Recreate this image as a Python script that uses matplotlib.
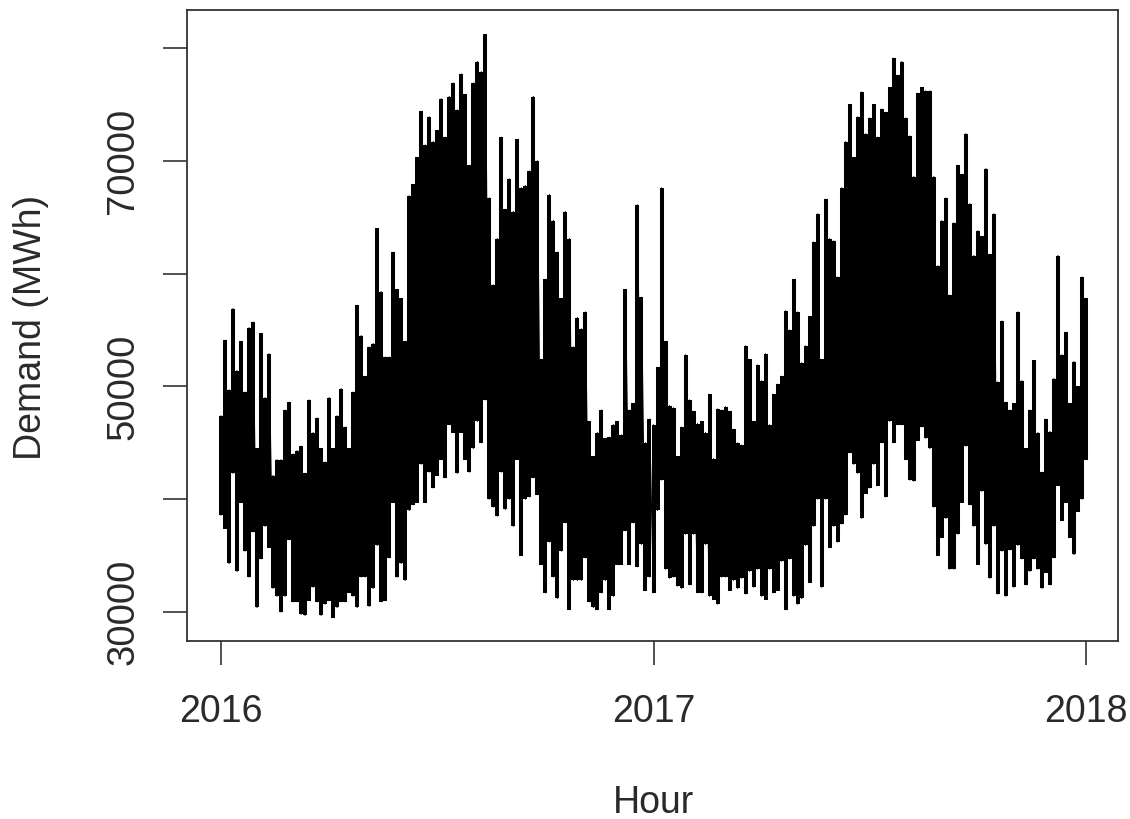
import numpy as np
import matplotlib
matplotlib.use("Agg")
import matplotlib.pyplot as plt

plt.rcParams['font.family'] = ['Liberation Sans', 'DejaVu Sans']

# Upper and lower envelope of the hourly demand, thousand MWh, read about every 3.4 days
high_2016a = [47.4,54.1,49.7,56.9,51.4,54.0,49.5,55.2,55.7,44.5,54.7,49.0,52.9,42.1,43.5,43.5,47.9,48.6,44.0,44.3,
              44.7,42.3,48.8,45.9,47.2,44.5,43.3,49.0,44.5,47.4,49.8,46.4,44.5,49.5,57.2,54.5,50.9,53.5,53.8,64.0,
              58.4,52.6,52.6,61.9,58.6,57.8,54.0,66.9,67.9,70.3,74.4,71.4,73.9,71.7,72.7]
low_2016a = [38.6,37.4,34.3,42.3,33.6,39.7,35.4,33.1,37.1,30.4,34.7,37.6,35.7,32.1,31.4,30.0,31.4,36.4,30.9,30.9,
             29.8,29.7,31.0,32.2,30.9,29.7,30.7,31.0,29.5,30.4,30.9,30.9,31.7,31.4,30.4,33.1,33.1,30.5,32.1,35.9,
             30.9,31.0,34.8,39.7,33.1,34.3,32.8,39.0,39.5,39.7,43.1,39.7,42.4,41.0,42.1]
high_2016b = [75.5,72.1,75.7,76.9,74.5,77.7,75.9,69.6,76.9,78.8,77.9,81.2,66.7,59.0,63.1,72.1,65.7,68.4,65.5,71.9,
              67.6,67.8,69.1,75.7,70.0,52.4,59.5,67.0,64.7,61.9,57.8,65.5,63.1,53.5,56.1,55.1,56.6,46.9,43.8,45.9,
              47.9,45.4,45.5,46.6,46.9,45.7,58.6,47.9,48.5,66.1,57.9,45.0,47.1]
low_2016b = [43.5,41.9,46.6,45.9,42.3,45.9,43.5,42.4,44.5,46.9,45.0,48.8,40.0,39.3,38.5,42.4,39.1,40.0,37.6,43.5,
             35.0,40.0,40.2,41.9,40.4,34.2,31.7,36.2,33.1,31.2,35.4,37.9,30.2,32.8,32.8,32.8,34.8,30.9,30.4,30.2,
             31.7,32.8,30.2,31.4,34.2,34.2,37.2,34.2,37.9,34.0,36.0,31.9,33.1]
high_2017a = [46.6,51.7,67.6,54.0,48.3,48.1,43.8,46.4,52.8,48.8,47.8,46.7,46.9,45.9,49.3,43.6,48.0,47.9,48.2,47.8,
              46.2,45.0,44.8,53.6,52.4,46.9,51.9,50.5,52.9,46.6,49.3,50.2,50.9,56.7,55.0,59.5,56.6,52.1,53.6,56.2,
              62.8,65.3,52.4,66.6,63.1,62.9,59.7,67.6,71.7,75.0,70.3,73.9,76.1,72.4,73.8]
low_2017a = [31.7,39.0,41.7,33.8,33.0,33.1,32.3,32.1,36.9,32.4,36.9,31.7,31.7,36.0,31.4,31.1,30.7,33.1,33.1,31.9,
             32.8,32.1,33.0,31.6,33.6,32.2,33.8,31.4,31.1,33.8,31.7,31.9,34.5,30.2,34.7,31.4,30.7,31.2,35.9,32.6,
             37.6,40.0,32.2,40.0,35.7,37.6,36.2,37.8,38.6,44.1,43.1,42.3,38.3,40.5,41.0]
high_2017b = [75.0,72.1,74.6,74.3,76.5,79.1,77.6,78.8,73.8,72.2,68.6,76.0,76.5,76.2,76.2,68.6,60.7,64.7,66.7,58.1,
              64.5,69.6,68.8,72.4,66.2,61.6,63.8,63.3,69.3,61.7,65.3,50.4,55.8,48.6,47.9,48.5,56.6,50.5,44.5,47.9,
              52.3,45.9,42.4,47.1,46.0,50.7,61.6,52.8,54.8,48.5,52.2,50.0,59.7,57.8]
low_2017b = [43.1,41.2,45.0,40.2,46.9,45.0,46.6,46.6,43.5,41.7,41.6,45.2,46.4,45.4,44.5,39.3,35.0,36.6,38.3,33.8,
             33.8,36.9,39.7,44.7,39.5,37.6,34.2,40.7,36.0,33.0,37.6,31.6,35.4,31.4,35.5,32.2,35.9,34.7,32.4,33.6,
             34.7,33.8,32.1,33.5,32.4,34.8,41.2,38.1,39.7,36.6,35.1,38.9,40.0,43.5]

year_ticks = [2016, 2017, 2018]
demand_ticks = [30000, 40000, 50000, 60000, 70000, 80000]
demand_labels = ['30000', '', '50000', '', '70000', '']

high = np.array(high_2016a + high_2016b + high_2017a + high_2017b) * 1000
low = np.array(low_2016a + low_2016b + low_2017a + low_2017b) * 1000
t = np.linspace(2016, 2018, len(high))
# trace runs low, high, low, high ... through time
series_t = np.column_stack([t, t]).ravel()
series_v = np.column_stack([low, high]).ravel()

W, H = 1130, 819
fig = plt.figure(figsize=(W / 100, H / 100), dpi=100)
ax = fig.add_axes([187 / W, 1 - 641 / H, (1118 - 187) / W, (641 - 10) / H])
ax.vlines(t, low, high, color='black', lw=2.9, capstyle='butt')
ax.plot(series_t, series_v, color='black', lw=0.8, solid_joinstyle='round')

ax.set_xlim(2016 - 34 / 432.5, 2018 + 32 / 432.5)
ax.set_ylim(30000 - 29 / 11.28 * 1000, 80000 + 38 / 11.28 * 1000)
ax.set_xticks(year_ticks)
ax.set_xticklabels([str(y) for y in year_ticks], fontsize=27, color='#2a2a2a')
ax.set_yticks(demand_ticks)
ax.set_yticklabels(demand_labels, fontsize=27.5, rotation=90, va='center', color='#2a2a2a')
ax.tick_params(axis='x', length=17.5, width=1.2, color='#333333', pad=20.5)
ax.tick_params(axis='y', length=17.5, width=1.2, color='#333333', pad=15.5)
for s in ax.spines.values():
    s.set_linewidth(1.3)
    s.set_color('#333333')

fig.text(653 / W, 1 - 803 / H, 'Hour', fontsize=27, ha='center', va='center', color='#2a2a2a')
fig.text(31 / W, 1 - 327 / H, 'Demand (MWh)', fontsize=27, rotation=90, ha='center', va='center', color='#2a2a2a')

fig.savefig('out.png', dpi=100)
